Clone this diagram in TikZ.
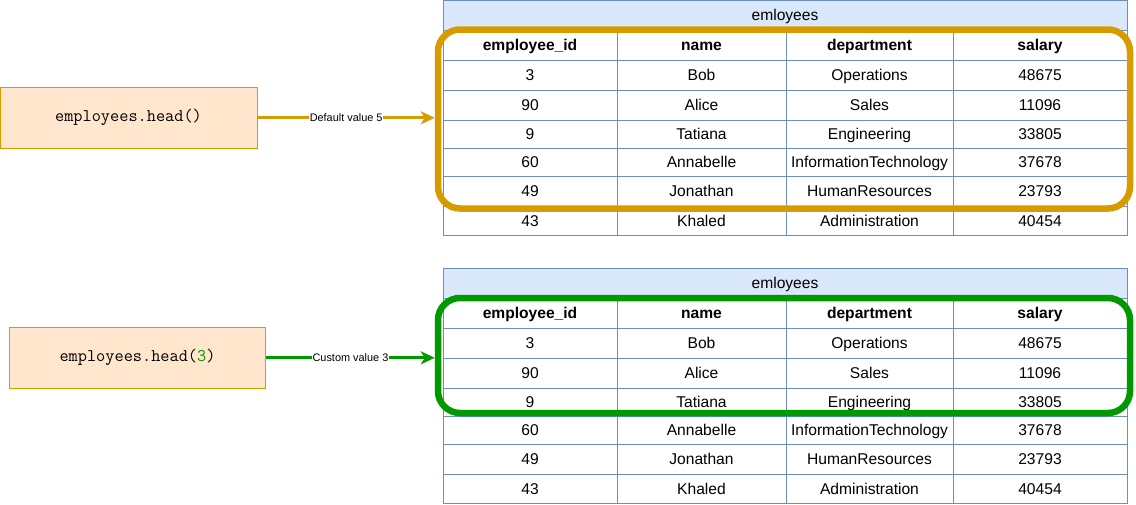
\documentclass[tikz,border=0pt]{standalone}
\usepackage{fontspec}
\setmainfont{Liberation Sans}
\usetikzlibrary{arrows.meta}
\definecolor{selorange}{HTML}{D79B00}
\definecolor{selgreen}{HTML}{009900}
\definecolor{boxfill}{HTML}{FFE6CC}
\definecolor{tblue}{HTML}{6C8EBF}
\definecolor{titlefill}{HTML}{DAE8FC}
\tikzset{
  cell/.style={draw=tblue, fill=white, line width=1pt, inner sep=0pt,
    text height=13.2pt, text depth=2pt,
    font=\fontsize{15.6}{18}\selectfont},
  titlecell/.style={cell, fill=titlefill},
  selbox/.style={draw, line width=6.5pt, rounded corners=22pt, inner sep=0pt},
  codebox/.style={draw=selorange, fill=boxfill, line width=1pt, inner sep=0pt,
    font=\ttfamily\fontsize{17.8}{20}\selectfont},
  callarrow/.style={line width=3pt, -{Stealth[length=14pt,width=13pt,inset=4pt]}},
  lbl/.style={fill=white, inner sep=1pt, text=black, font=\fontsize{10.9}{12}\selectfont}
}
\newcommand\emprow[8]{%
  \node[cell, minimum width=174, minimum height=#4] (#1-#2-1) at (530,#3+#4/2) {#5};
  \node[cell, minimum width=169, minimum height=#4] (#1-#2-2) at (701.5,#3+#4/2) {#6};
  \node[cell, minimum width=167, minimum height=#4] (#1-#2-3) at (869.5,#3+#4/2) {#7};
  \node[cell, minimum width=174, minimum height=#4] (#1-#2-4) at (1040,#3+#4/2) {#8};
}
\newcommand\emptable[3]{% #1 prefix, #2 y offset, #3 title top
  \node[titlecell, minimum width=684, minimum height=#2+30-#3] (#1-title) at (785,{(#3+#2+30)/2}) {emloyees};
  \emprow{#1}{h}{#2+30}{30}{\textbf{employee\_id}}{\textbf{name}}{\textbf{department}}{\textbf{salary}}
  \emprow{#1}{r1}{#2+60}{30}{3}{Bob}{Operations}{48675}
  \emprow{#1}{r2}{#2+90}{30}{90}{Alice}{Sales}{11096}
  \emprow{#1}{r3}{#2+120}{28}{9}{Tatiana}{Engineering}{33805}
  \emprow{#1}{r4}{#2+148}{28}{60}{Annabelle}{InformationTechnology}{37678}
  \emprow{#1}{r5}{#2+176}{30}{49}{Jonathan}{HumanResources}{23793}
  \emprow{#1}{r6}{#2+206}{29}{43}{Khaled}{Administration}{40454}
}
\begin{document}
\begin{tikzpicture}[x=1pt,y=-1pt]
\useasboundingbox (0,0) rectangle (1136,504);
\emptable{ta}{0}{0.6}
\emptable{tb}{268}{268}
\node[selbox, draw=selorange, minimum width=692, minimum height=179] (sel1) at (784,119) {};
\node[selbox, draw=selgreen, minimum width=692, minimum height=115] (sel2) at (784,355.5) {};
\node[codebox, minimum width=257, minimum height=61] (call1) at (128.5,117.8) {employees.head()};
\node[codebox, minimum width=256.4, minimum height=61] (call2) at (137.5,357.8) {employees.head(\textcolor{selgreen}{3})};
\draw[callarrow, selorange] (call1.east) -- (call1.east -| sel1.west) node[midway, lbl] {Default value 5};
\draw[callarrow, selgreen] (call2.east) -- (call2.east -| sel2.west) node[midway, lbl] {Custom value 3};
\end{tikzpicture}
\end{document}
